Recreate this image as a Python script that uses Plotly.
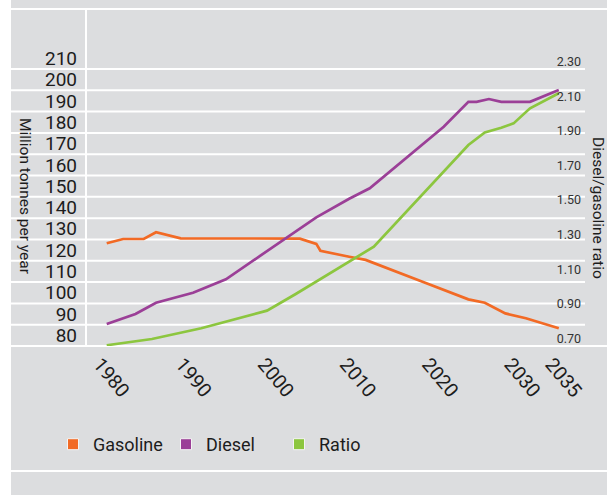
import plotly.graph_objects as go

# ---- data ----
gasoline_years = [1980, 1982, 1984.5, 1986, 1989, 2003.5, 2005.5, 2006, 2009.5, 2011.5, 2018.5, 2024, 2026, 2028.5, 2031, 2035]
gasoline_vals = [123.2, 125.2, 125.2, 128.4, 125.5, 125.4, 122.9, 119.7, 116.9, 115.4, 105.0, 96.9, 95.3, 90.3, 88.0, 83.3]

diesel_years = [1980, 1983.5, 1986, 1990.5, 1994.5, 2005.5, 2009.5, 2012, 2021, 2024, 2025, 2026.5, 2028, 2031.5, 2035]
diesel_vals = [85.3, 90.0, 95.3, 100.0, 106.3, 135.4, 144.1, 149.0, 177.9, 189.6, 189.6, 190.9, 189.6, 189.6, 195.1]

ratio_years = [1980, 1985.5, 1991.5, 1994.5, 1999.5, 2003, 2012.5, 2024, 2026, 2028, 2029.5, 2031.5, 2035]
ratio_vals = [0.660, 0.696, 0.758, 0.796, 0.860, 0.956, 1.230, 1.818, 1.891, 1.918, 1.943, 2.030, 2.117]

left_ticks = [80, 90, 100, 110, 120, 130, 140, 150, 160, 170, 180, 190, 200, 210]
right_ticks = [0.70, 0.90, 1.10, 1.30, 1.50, 1.70, 1.90, 2.10, 2.30]
right_tick_text = ["0.70", "0.90", "1.10", "1.30", "1.50", "1.70", "1.90", "2.10", "2.30"]
x_ticks = [1980, 1990, 2000, 2010, 2020, 2030, 2035]

series_names = ["Gasoline", "Diesel", "Ratio"]
colors = ["#F26A25", "#9B3F97", "#8CC63F"]

# ---- layout geometry ----
W, H = 607, 495
L, R, T, B = 86, 22, 9, 149
pw = W - L - R
ph = H - T - B
GREY = "#DCDDDF"
FONT = "Roboto"
TXT = "#1c1c1c"


def px_x(p):
    return (p - L) / pw


def px_y(p):
    return (H - B - p) / ph


fig = go.Figure()

fig.add_trace(go.Scatter(x=gasoline_years, y=gasoline_vals, mode="lines",
                         line=dict(color=colors[0], width=2.7), yaxis="y", showlegend=False))
fig.add_trace(go.Scatter(x=diesel_years, y=diesel_vals, mode="lines",
                         line=dict(color=colors[1], width=2.7), yaxis="y", showlegend=False))
fig.add_trace(go.Scatter(x=ratio_years, y=ratio_vals, mode="lines",
                         line=dict(color=colors[2], width=2.7), yaxis="y2", showlegend=False))

# legend entries with square swatches
for name, c in zip(series_names, colors):
    fig.add_trace(go.Scatter(x=[None], y=[None], mode="markers", name=name,
                             marker=dict(symbol="square", size=11, color=c,
                                         line=dict(color="#f4f4f4", width=1))))

shapes = []
# white strip at far left
shapes.append(dict(type="rect", xref="paper", yref="paper", x0=px_x(-5), x1=px_x(11),
                   y0=px_y(H + 5), y1=px_y(-5), fillcolor="white", line=dict(width=0), layer="below"))
# horizontal grid lines (between labels)
for v in left_ticks:
    shapes.append(dict(type="line", xref="paper", yref="y", x0=px_x(11), x1=1,
                       y0=v - 5, y1=v - 5, line=dict(color="white", width=2), layer="below"))
# frame lines
for yy in [9, 346, 471]:
    shapes.append(dict(type="line", xref="paper", yref="paper", x0=px_x(11), x1=px_x(W + 2),
                       y0=px_y(yy), y1=px_y(yy), line=dict(color="white", width=2), layer="below"))
shapes.append(dict(type="line", xref="paper", yref="paper", x0=0, x1=0, y0=0, y1=1,
                   line=dict(color="white", width=2), layer="below"))

annotations = [
    dict(text="Million tonnes per year", xref="paper", yref="paper", x=px_x(25), y=px_y(196),
         textangle=90, showarrow=False, xanchor="center", yanchor="middle",
         font=dict(family=FONT, size=15.5, color=TXT)),
    dict(text="Diesel/gasoline ratio", xref="paper", yref="paper", x=px_x(598), y=px_y(208),
         textangle=90, showarrow=False, xanchor="center", yanchor="middle",
         font=dict(family=FONT, size=15.5, color=TXT)),
]

fig.update_layout(
    width=W, height=H,
    margin=dict(l=L, r=R, t=T, b=B, pad=0),
    paper_bgcolor=GREY, plot_bgcolor="rgba(0,0,0,0)",
    font=dict(family=FONT, color=TXT),
    shapes=shapes, annotations=annotations,
    showlegend=True,
    legend=dict(orientation="h", x=px_x(53), y=px_y(444.5), xanchor="left", yanchor="middle",
                bgcolor="rgba(0,0,0,0)", font=dict(family=FONT, size=18, color=TXT),
                itemwidth=30, borderwidth=0, entrywidth=68, entrywidthmode="pixels"),
    xaxis=dict(range=[1977.48, 2038.19], tickvals=x_ticks, ticktext=[str(t) for t in x_ticks],
               tickangle=50, tickfont=dict(family=FONT, size=19.5, color=TXT),
               showgrid=False, zeroline=False, showline=False, ticks="", automargin=False,
               ticklabelstandoff=2, ticklabelshift=-7, ticklabeloverflow="allow"),
    yaxis=dict(range=[75, 233.14], tickvals=left_ticks, ticktext=[str(t) for t in left_ticks],
               tickfont=dict(family=FONT, size=19, color=TXT),
               showgrid=False, zeroline=False, showline=False, ticks="", automargin=False,
               ticklabelstandoff=8),
    yaxis2=dict(range=[0.6555, 2.6046], overlaying="y", side="right", tickvals=right_ticks,
                ticktext=right_tick_text, tickfont=dict(family=FONT, size=12.5, color="#333333"),
                ticklabelposition="inside", showgrid=False, zeroline=False, showline=False,
                ticks="", automargin=False, ticklabelstandoff=1, ticklabeloverflow="allow"),
)

fig.write_html("out.html", config={"displayModeBar": False},
               post_script="document.body.style.margin='0px';")
